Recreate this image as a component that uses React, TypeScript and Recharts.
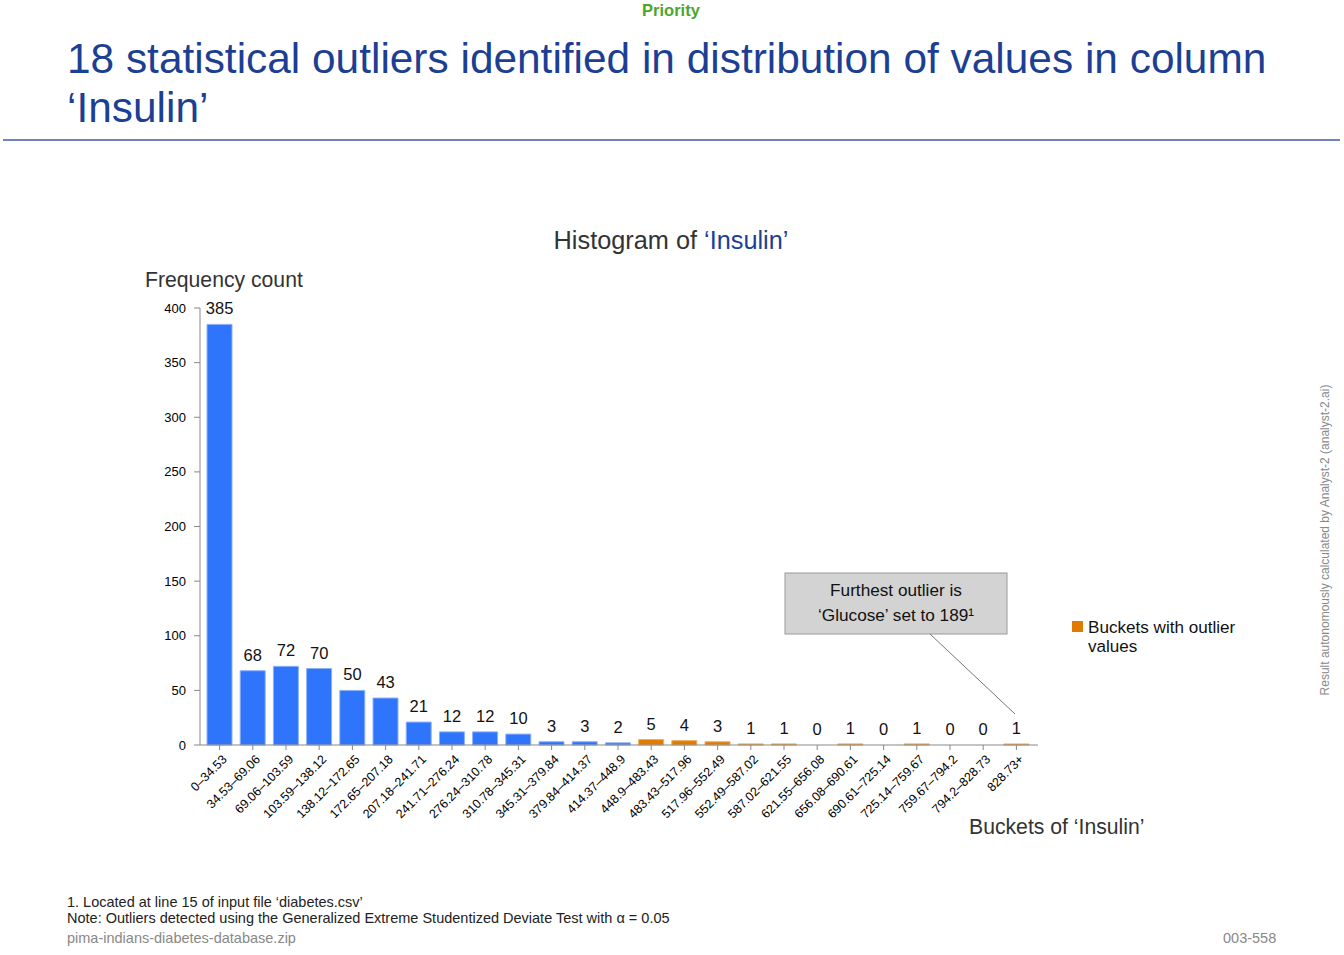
import { Bar, Cell, ComposedChart, LabelList, Line, XAxis, YAxis } from "recharts";

const buckets = [
  "0–34.53", "34.53–69.06", "69.06–103.59", "103.59–138.12", "138.12–172.65",
  "172.65–207.18", "207.18–241.71", "241.71–276.24", "276.24–310.78", "310.78–345.31",
  "345.31–379.84", "379.84–414.37", "414.37–448.9", "448.9–483.43", "483.43–517.96",
  "517.96–552.49", "552.49–587.02", "587.02–621.55", "621.55–656.08", "656.08–690.61",
  "690.61–725.14", "725.14–759.67", "759.67–794.2", "794.2–828.73", "828.73+"
];
const counts = [385, 68, 72, 70, 50, 43, 21, 12, 12, 10, 3, 3, 2, 5, 4, 3, 1, 1, 0, 1, 0, 1, 0, 0, 1];
const hasOutlier = [
  false, false, false, false, false, false, false, false, false, false, false, false, false,
  true, true, true, true, true, true, true, true, true, true, true, true
];
const yTicks = [0, 50, 100, 150, 200, 250, 300, 350, 400];

const data = buckets.map((bucket, i) => ({ bucket, count: counts[i], outlier: hasOutlier[i] }));

const font = "'Liberation Sans', Arial, sans-serif";
const blue = "#2e75fb";
const orange = "#e07b00";
const titleBlue = "#1c3f94";

function BucketTick(props: any) {
  const { x, y, payload } = props;
  const tx = x + 5;
  const ty = y + 5;
  return (
    <text x={tx} y={ty} dy="0.35em" transform={`rotate(-45 ${tx} ${ty})`} textAnchor="end" fontSize={12.5} fill="#000" fontFamily={font}>
      {payload.value}
    </text>
  );
}

export default function App() {
  return (
    <div style={{ position: "absolute", left: 0, top: 0, width: 1344, height: 955, background: "#fff", fontFamily: font }}>
      <ComposedChart
        width={1344}
        height={955}
        data={data}
        margin={{ top: 308, right: 306, bottom: 110, left: 140 }}
      >
        <XAxis
          dataKey="bucket"
          interval={0}
          height={100}
          padding={{ left: 3, right: 5 }}
          axisLine={{ stroke: "#888" }}
          tickLine={{ stroke: "#888" }}
          tickSize={5}
          tick={<BucketTick />}
        />
        <YAxis
          width={60}
          domain={[0, 400]}
          ticks={yTicks}
          axisLine={{ stroke: "#888" }}
          tickLine={{ stroke: "#888" }}
          tickSize={6}
          tickMargin={8}
          tick={{ fontSize: 13, fill: "#000", fontFamily: font }}
        />
        <Bar dataKey="count" barSize={25} isAnimationActive={false}>
          {data.map((d) => (
            <Cell key={d.bucket} fill={d.outlier ? orange : blue} stroke={d.outlier ? "#f0b060" : "#8db2fc"} strokeWidth={1} />
          ))}
        </Bar>
        <Line dataKey="count" stroke="none" dot={false} activeDot={false} isAnimationActive={false}>
          <LabelList dataKey="count" position="top" offset={10} fontSize={16.5} fill="#111" fontFamily={font} />
        </Line>
      </ComposedChart>

      <svg width={1344} height={955} style={{ position: "absolute", left: 0, top: 0, pointerEvents: "none" }} fontFamily={font}>
        <text x={671} y={16} textAnchor="middle" fontSize={16.5} fontWeight="bold" fill="#4fa52a">Priority</text>
        <text x={67} y={73} fontSize={42.4} fill={titleBlue}>18 statistical outliers identified in distribution of values in column</text>
        <text x={67} y={122} fontSize={42.4} fill={titleBlue}>‘Insulin’</text>
        <line x1={3} y1={140} x2={1340} y2={140} stroke="#7083bd" strokeWidth={2} />

        <text x={671} y={249} textAnchor="middle" fontSize={25.3} fill="#333">
          Histogram of <tspan fill={titleBlue}>‘Insulin’</tspan>
        </text>
        <text x={145} y={287} fontSize={21.2} fill="#333">Frequency count</text>
        <text x={969} y={834} fontSize={21.2} fill="#333">Buckets of ‘Insulin’</text>

        <rect x={785} y={573} width={222} height={61} fill="#d3d3d3" stroke="#999" />
        <text x={896} y={596} textAnchor="middle" fontSize={17.2} fill="#111">Furthest outlier is</text>
        <text x={896} y={621} textAnchor="middle" fontSize={17.2} fill="#111">‘Glucose’ set to 189¹</text>
        <line x1={930} y1={634} x2={1015} y2={714} stroke="#777" strokeWidth={1} />

        <rect x={1072} y={621} width={11} height={11} fill={orange} />
        <text x={1088} y={633} fontSize={17.1} fill="#111">Buckets with outlier</text>
        <text x={1088} y={652} fontSize={17.1} fill="#111">values</text>

        <text transform="translate(1329 540) rotate(-90)" textAnchor="middle" fontSize={12} fill="#888">
          Result autonomously calculated by Analyst-2 (analyst-2.ai)
        </text>

        <text x={67} y={907} fontSize={14.5} fill="#222">1. Located at line 15 of input file ‘diabetes.csv’</text>
        <text x={67} y={923} fontSize={14.5} fill="#222">Note: Outliers detected using the Generalized Extreme Studentized Deviate Test with α = 0.05</text>
        <text x={67} y={943} fontSize={14.5} fill="#888">pima-indians-diabetes-database.zip</text>
        <text x={1223} y={943} fontSize={14.5} fill="#888">003-558</text>
      </svg>
    </div>
  );
}
